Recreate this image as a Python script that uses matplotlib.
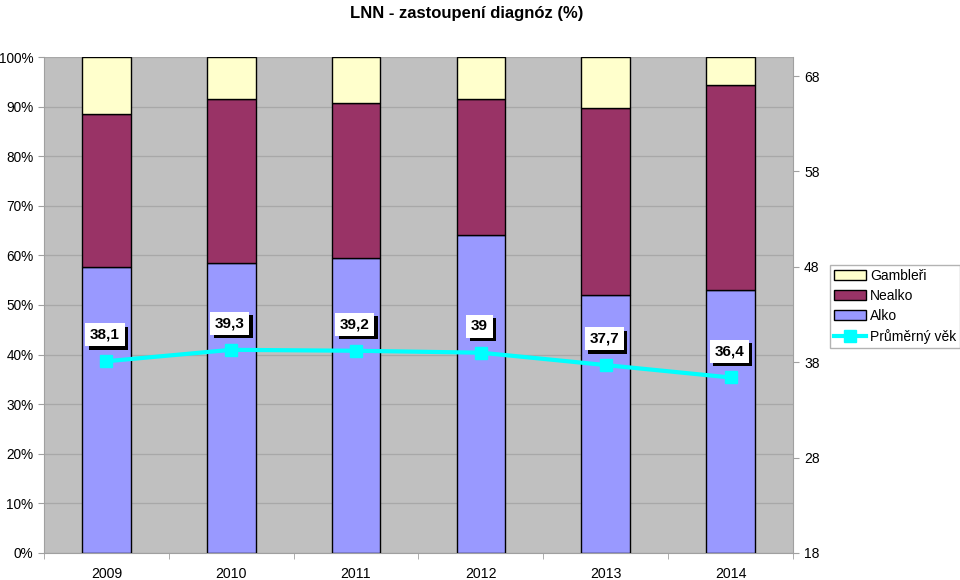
import matplotlib.pyplot as plt
import matplotlib.patheffects as pe
import numpy as np

plt.rcParams["font.family"] = ["Liberation Sans", "DejaVu Sans"]

years = ["2009", "2010", "2011", "2012", "2013", "2014"]
alko = [57.7, 58.5, 59.5, 64.1, 52.0, 53.0]
nealko = [30.8, 33.0, 31.2, 27.4, 37.7, 41.4]
gambleri = [11.5, 8.5, 9.3, 8.5, 10.3, 5.6]
vek = [38.1, 39.3, 39.2, 39.0, 37.7, 36.4]
vek_labels = ["38,1", "39,3", "39,2", "39", "37,7", "36,4"]

fig = plt.figure(figsize=(9.6, 5.8), dpi=100)
ax = fig.add_axes([0.0458, 0.0466, 0.7802, 0.8551])
ax.set_facecolor("#C0C0C0")
x = np.arange(len(years))
w = 0.39
kw = dict(width=w, edgecolor="black", linewidth=1.0, zorder=3)
b1 = ax.bar(x, alko, color="#9999FF", label="Alko", **kw)
b2 = ax.bar(x, nealko, bottom=alko, color="#993366", label="Nealko", **kw)
bottom2 = np.array(alko) + np.array(nealko)
b3 = ax.bar(x, gambleri, bottom=bottom2, color="#FFFFCC", label="Gambleři", **kw)

ax.set_xlim(-0.5, len(years) - 0.5)
ax.set_ylim(0, 100)
ax.set_yticks(np.arange(0, 101, 10))
ax.set_yticklabels([f"{v}%" for v in range(0, 101, 10)], fontsize=9.8)
ax.set_xticks(x)
ax.set_xticklabels(years, fontsize=10.2)
ax.set_xticks(np.arange(-0.5, len(years), 1), minor=True)
ax.tick_params(axis="x", which="major", length=0, pad=10)
ax.tick_params(axis="x", which="minor", length=4, color="#A0A0A0")
ax.tick_params(axis="y", length=4, color="#A0A0A0", pad=3.5)
ax.grid(axis="y", color="#A8A8A8", linewidth=0.9, zorder=0)
ax.set_axisbelow(True)
for s in ["top", "right"]:
    ax.spines[s].set_visible(False)
for s in ["left", "bottom"]:
    ax.spines[s].set_color("#A0A0A0")

ax2 = ax.twinx()
ax2.set_ylim(18, 70)
ax2.set_yticks(np.arange(18, 69, 10))
ax2.tick_params(axis="y", labelsize=10, length=4, color="#A0A0A0", pad=4)
for s in ["top", "left", "bottom"]:
    ax2.spines[s].set_visible(False)
ax2.spines["right"].set_color("#A0A0A0")
line, = ax2.plot(x, vek, color="#00FFFF", linewidth=3, marker="s",
                 markersize=9, label="Průměrný věk", zorder=5)

for xi, v, lab in zip(x, vek, vek_labels):
    t = ax2.annotate(lab, (xi, v), xytext=(-1, 19), textcoords="offset points",
                     ha="center", va="center", fontsize=11, fontweight="bold",
                     bbox=dict(boxstyle="square,pad=0.3", fc="white", ec="none"),
                     zorder=6)
    t.get_bbox_patch().set_path_effects(
        [pe.withSimplePatchShadow(offset=(2.5, -2.5), shadow_rgbFace="black", alpha=1.0),
         pe.Normal()])

fig.legend([b3, b2, b1, line], ["Gambleři", "Nealko", "Alko", "Průměrný věk"],
           loc="upper left", bbox_to_anchor=(0.865, 0.543), fontsize=10,
           frameon=True, fancybox=False, edgecolor="#A0A0A0",
           handlelength=2.3, handletextpad=0.3, labelspacing=0.45,
           borderpad=0.25, borderaxespad=0)

fig.suptitle("LNN - zastoupení diagnóz (%)", x=0.486, fontsize=12, fontweight="bold", y=0.99)
fig.savefig("out.png", dpi=100)
